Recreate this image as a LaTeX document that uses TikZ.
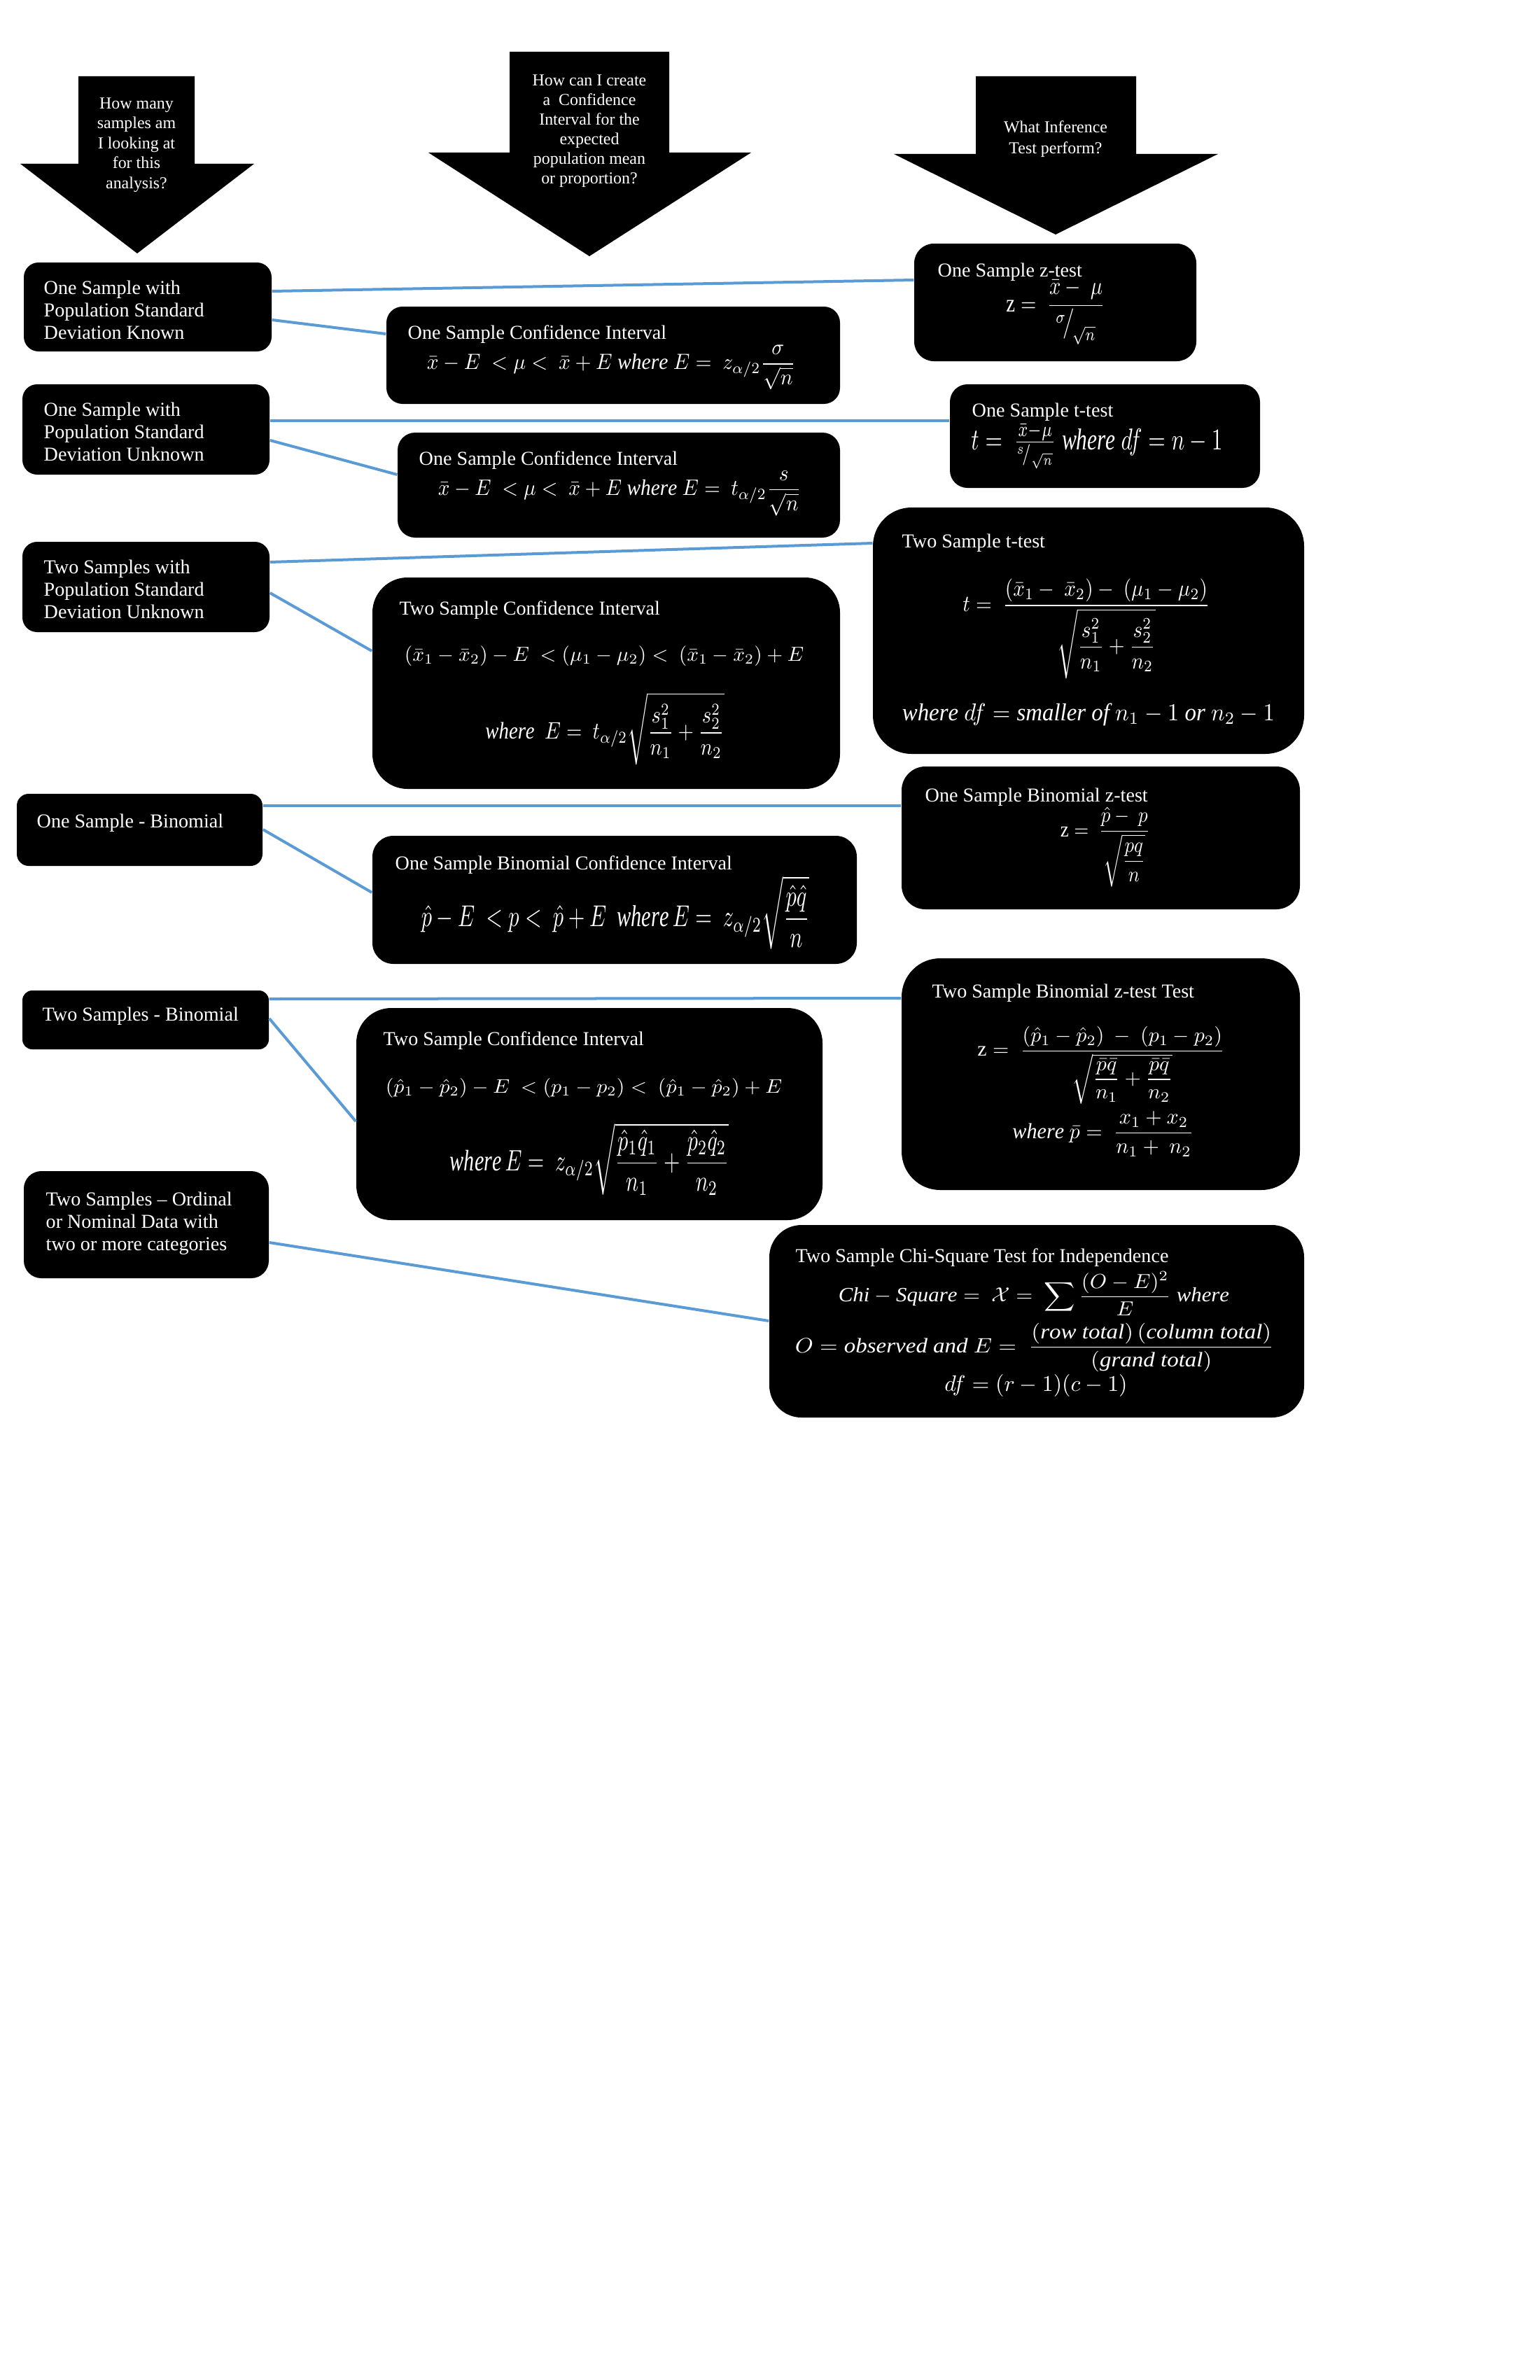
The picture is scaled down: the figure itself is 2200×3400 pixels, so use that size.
\documentclass[tikz,border=0pt]{standalone}
\usepackage{amsmath}
\usepackage{graphicx}
\usepackage{fontspec}
\setmainfont{Liberation Serif}
\usetikzlibrary{fit,calc}
\definecolor{linkblue}{HTML}{5B9BD5}
\newcommand\fm[3]{\resizebox*{#1}{#2}{$\displaystyle #3$}}
\begin{document}
\begin{tikzpicture}[x=0.01cm,y=-0.01cm,
  box/.style={fill=black, draw=none, inner sep=0pt},
  txt/.style={text=white, inner sep=0pt, anchor=north west, align=left, font=\fontsize{8}{9.1}\selectfont},
  atxt/.style={text=white, inner sep=0pt, anchor=north, align=center},
  fml/.style={text=white, inner sep=0pt},
  link/.style={draw=linkblue, line width=0.04cm}]
\useasboundingbox (0,0) rectangle (2200,3400);
\fill[white] (0,0) rectangle (2200,3400);

% header arrows
\fill[black] (112,109) -- (278,109) -- (278,234) -- (363,234) -- (196,362) -- (29,234) -- (112,234) -- cycle;
\fill[black] (728,74) -- (956,74) -- (956,218) -- (1073,218) -- (842,366) -- (612,218) -- (728,218) -- cycle;
\fill[black] (1394,109) -- (1623,109) -- (1623,220) -- (1740,220) -- (1508,335) -- (1277,220) -- (1394,220) -- cycle;
\node[atxt, font=\fontsize{6.8}{8.1}\selectfont] (q1) at (195,139) {How many\\samples am\\I looking at\\for this\\analysis?};
\node[atxt, font=\fontsize{6.8}{7.97}\selectfont] (q2) at (842,106) {How can I create\\a\ \ Confidence\\Interval for the\\expected\\population mean\\or proportion?};
\node[atxt, font=\fontsize{6.8}{8.5}\selectfont] (q3) at (1508,172) {What Inference\\Test perform?};

% boxes
\node[box, rounded corners=0.21cm, fit={(34,375) (388,502)}] (L1) {};
\node[box, rounded corners=0.23cm, fit={(552,438) (1200,577)}] (CI1) {};
\node[box, rounded corners=0.28cm, fit={(1306,348) (1709,516)}] (Z1) {};
\node[box, rounded corners=0.21cm, fit={(32,549) (385,678)}] (L2) {};
\node[box, rounded corners=0.25cm, fit={(1357,549) (1800,697)}] (T1) {};
\node[box, rounded corners=0.25cm, fit={(568,618) (1200,768)}] (CI2) {};
\node[box, rounded corners=0.21cm, fit={(32,774) (385,903)}] (L3) {};
\node[box, rounded corners=0.55cm, fit={(1247,725) (1863,1077)}] (T2) {};
\node[box, rounded corners=0.50cm, fit={(532,825) (1200,1127)}] (CI3) {};
\node[box, rounded corners=0.17cm, fit={(24,1134) (375,1237)}] (L4) {};
\node[box, rounded corners=0.34cm, fit={(1288,1095) (1857,1299)}] (BZ) {};
\node[box, rounded corners=0.30cm, fit={(532,1194) (1224,1377)}] (CI4) {};
\node[box, rounded corners=0.14cm, fit={(32,1415) (384,1499)}] (L5) {};
\node[box, rounded corners=0.55cm, fit={(1288,1369) (1857,1700)}] (B2Z) {};
\node[box, rounded corners=0.50cm, fit={(509,1440) (1175,1743)}] (CI5) {};
\node[box, rounded corners=0.25cm, fit={(34,1673) (384,1826)}] (L6) {};
\node[box, rounded corners=0.46cm, fit={(1099,1750) (1863,2025)}] (CHI) {};

% left texts
\node[txt] (tL1) at (62,400) {One Sample with\\Population Standard\\Deviation Known};
\node[txt] (tL2) at (62,574) {One Sample with\\Population Standard\\Deviation Unknown};
\node[txt] (tL3) at (62,799) {Two Samples with\\Population Standard\\Deviation Unknown};
\node[txt] (tL4) at (52,1162) {One Sample - Binomial};
\node[txt] (tL5) at (60,1438) {Two Samples - Binomial};
\node[txt] (tL6) at (65,1702) {Two Samples -- Ordinal\\or Nominal Data with\\two or more categories};

% titles
\node[txt] (tCI1) at (582,464) {One Sample Confidence Interval};
\node[txt] (tCI2) at (598,644) {One Sample Confidence Interval};
\node[txt] (tCI3) at (570,858) {Two Sample Confidence Interval};
\node[txt] (tCI4) at (564,1222) {One Sample Binomial Confidence Interval};
\node[txt] (tCI5) at (547,1473) {Two Sample Confidence Interval};
\node[txt] (tZ1) at (1339,375) {One Sample z-test};
\node[txt] (tT1) at (1388,575) {One Sample t-test};
\node[txt] (tT2) at (1288,762) {Two Sample t-test};
\node[txt] (tBZ) at (1321,1125) {One Sample Binomial z-test};
\node[txt] (tB2Z) at (1331,1405) {Two Sample Binomial z-test Test};
\node[txt] (tCHI) at (1136,1783) {Two Sample Chi-Square Test for Independence};

% formulas
\node[fml] (fCI1) at (873,525) {\fm{5.26cm}{0.64cm}{\bar{x}-E\ <\mu<\ \bar{x}+E\ \mathit{where}\ E=\ z_{\alpha/2}\frac{\sigma}{\sqrt{n}}}};
\node[fml] (fCI2) at (885,705) {\fm{5.18cm}{0.65cm}{\bar{x}-E\ <\mu<\ \bar{x}+E\ \mathit{where}\ E=\ t_{\alpha/2}\frac{s}{\sqrt{n}}}};
\node[fml] (fCI3a) at (863,937) {\fm{5.70cm}{0.29cm}{(\bar{x}_1-\bar{x}_2)-E\ <(\mu_1-\mu_2)<\ (\bar{x}_1-\bar{x}_2)+E}};
\node[fml] (fCI3b) at (864,1041) {\fm{3.41cm}{1.03cm}{\mathit{where}\ \ E=\ t_{\alpha/2}\sqrt{\frac{s_1^2}{n_1}+\frac{s_2^2}{n_2}}}};
\node[fml] (fCI4) at (879,1304) {\fm{5.54cm}{1.05cm}{\hat{p}-E\ <p<\ \hat{p}+E\ \ \mathit{where}\,E=\ z_{\alpha/2}\sqrt{\frac{\hat{p}\hat{q}}{n}}}};
\node[fml] (fCI5a) at (834,1554) {\fm{5.66cm}{0.28cm}{(\hat{p}_1-\hat{p}_2)-E\ <(p_1-p_2)<\ (\hat{p}_1-\hat{p}_2)+E}};
\node[fml] (fCI5b) at (842,1656) {\fm{3.98cm}{1.03cm}{\mathit{where}\,E=\ z_{\alpha/2}\sqrt{\frac{\hat{p}_1\hat{q}_1}{n_1}+\frac{\hat{p}_2\hat{q}_2}{n_2}}}};
\node[fml] (fZ1) at (1508,446) {\fm{1.41cm}{0.92cm}{\mathrm{z}=\ \frac{\bar{x}-\ \mu}{{}^{\sigma}\!\big/_{\!\sqrt{n}}}}};
\node[fml] (fT1) at (1567,637) {\fm{3.59cm}{0.65cm}{t=\ \tfrac{\bar{x}-\mu}{{}^{s}\!/_{\sqrt{n}}}\ \mathit{where}\ df=n-1}};
\node[fml] (fT2a) at (1552,898) {\fm{3.53cm}{1.43cm}{t=\ \frac{(\bar{x}_1-\ \bar{x}_2)-\ (\mu_1-\mu_2)}{\sqrt{\dfrac{s_1^2}{n_1}+\dfrac{s_2^2}{n_2}}}}};
\node[fml] (fT2b) at (1555,1021) {\fm{5.32cm}{0.32cm}{\mathit{where}\ df=\mathit{smaller\ of}\ n_1-1\ \mathit{or}\ n_2-1}};
\node[fml] (fBZ) at (1579,1210) {\fm{1.28cm}{1.14cm}{\mathrm{z}=\ \frac{\hat{p}-\ p}{\sqrt{\dfrac{pq}{n}}}}};
\node[fml] (fB2Za) at (1573,1522) {\fm{3.53cm}{1.11cm}{\mathrm{z}=\ \frac{(\hat{p}_1-\hat{p}_2)\ -\ (p_1-p_2)}{\sqrt{\dfrac{\bar{p}\bar{q}}{n_1}+\dfrac{\bar{p}\bar{q}}{n_2}}}}};
\node[fml] (fB2Zb) at (1576,1620) {\fm{2.59cm}{0.65cm}{\mathit{where}\ \bar{p}=\ \frac{x_1+x_2}{n_1+\ n_2}}};
\node[fml] (fCHIa) at (1477,1848) {\fm{5.58cm}{0.63cm}{\mathit{Chi}-\mathit{Square}=\ \mathcal{X}=\ \sum\frac{(O-E)^2}{E}\ \mathit{where}}};
\node[fml] (fCHIb) at (1478,1925) {\fm{6.84cm}{0.70cm}{O=\mathit{observed\ and}\ E=\ \frac{(\mathit{row\ total})\,(\mathit{column\ total})}{(\mathit{grand\ total})}}};
\node[fml] (fCHIc) at (1480,1979) {\fm{2.61cm}{0.32cm}{df=(r-1)(c-1)}};

% connectors
\draw[link] (L1.east |- 0,416) -- (Z1.west |- 0,400);
\draw[link] (L1.east |- 0,457) -- (CI1.west |- 0,477);
\draw[link] (L2.east |- 0,601) -- (T1.west |- 0,601);
\draw[link] (L2.east |- 0,629) -- (CI2.west |- 0,678);
\draw[link] (L3.east |- 0,803) -- (T2.west |- 0,776);
\draw[link] (L3.east |- 0,847) -- (CI3.west |- 0,930);
\draw[link] (L4.east |- 0,1151) -- (BZ.west |- 0,1151);
\draw[link] (L4.east |- 0,1185) -- (CI4.west |- 0,1275);
\draw[link] (L5.east |- 0,1427) -- (B2Z.west |- 0,1426);
\draw[link] (L5.east |- 0,1455) -- (CI5.west |- 0,1602);
\draw[link] (L6.east |- 0,1775) -- (CHI.west |- 0,1887);
\end{tikzpicture}
\end{document}
